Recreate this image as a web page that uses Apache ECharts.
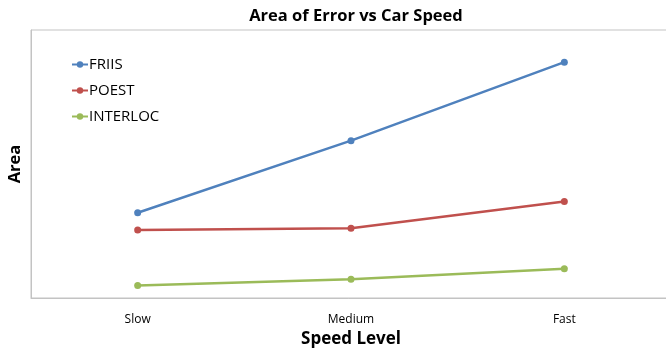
<!DOCTYPE html>
<html>
<head>
	<meta charset="UTF-8">
	<title>Area of Error vs Car Speed</title>
	<script type="text/javascript" src="https://cdn.jsdelivr.net/npm/echarts@6/dist/echarts.min.js"></script>
	<style>
		html, body { margin:0; padding:0; background:#fff; }
		#show { width:666px; height:351px; }
	</style>
</head>
<body>
<div id="show"></div>

<script type="text/javascript">
	var speeds = ['Slow', 'Medium', 'Fast'];
	var friis = [31.8, 58.7, 88.0];
	var poest = [25.4, 26.0, 36.0];
	var interloc = [4.7, 7.0, 10.9];

	var font = 'Open Sans';
	var myChart = echarts.init(document.getElementById('show'));

	function line(name, data, color) {
		return {
			name: name,
			type: 'line',
			data: data,
			symbol: 'circle',
			symbolSize: 7,
			color: color,
			lineStyle: { width: 2.5, color: color },
			itemStyle: { color: color }
		};
	}

	option = {
		animation: false,
		title: {
			text: 'Area of Error vs Car Speed',
			left: 351, top: 3, textAlign: 'center',
			textStyle: { fontFamily: font, fontSize: 16.5, fontWeight: 'bold', color: '#000' }
		},
		legend: {
			orient: 'vertical',
			left: 66, top: 52,
			itemWidth: 16, itemHeight: 8, itemGap: 11,
			textStyle: { fontFamily: font, fontSize: 15, color: '#000', padding: [0, 0, 0, -4] },
			data: ['FRIIS', 'POEST', 'INTERLOC']
		},
		grid: {
			left: 31, top: 30, width: 640, height: 268,
			outerBoundsMode: 'none',
			show: true, borderColor: '#c3c3c3', borderWidth: 1
		},
		xAxis: {
			type: 'category',
			data: speeds,
			name: 'Speed Level',
			nameLocation: 'middle',
			nameGap: 33,
			nameTextStyle: { fontFamily: font, fontSize: 17, fontWeight: 'bold', color: '#000' },
			axisLine: { lineStyle: { color: '#c3c3c3' } },
			axisTick: { alignWithLabel: true, length: 4, lineStyle: { color: '#c3c3c3' } },
			axisLabel: { fontFamily: font, fontSize: 12, color: '#000', margin: 16 }
		},
		yAxis: {
			type: 'value',
			min: 0, max: 100,
			name: 'Area',
			nameLocation: 'middle',
			nameGap: 7,
			nameTextStyle: { fontFamily: font, fontSize: 16.5, fontWeight: 'bold', color: '#000' },
			axisLine: { show: true, lineStyle: { color: '#c3c3c3' } },
			axisTick: { show: false },
			axisLabel: { show: false },
			splitLine: { show: false }
		},
		series: [
			line('FRIIS', friis, '#4f81bd'),
			line('POEST', poest, '#c0504d'),
			line('INTERLOC', interloc, '#9bbb59')
		]
	};

	myChart.setOption(option);
</script>
</body>
</html>
